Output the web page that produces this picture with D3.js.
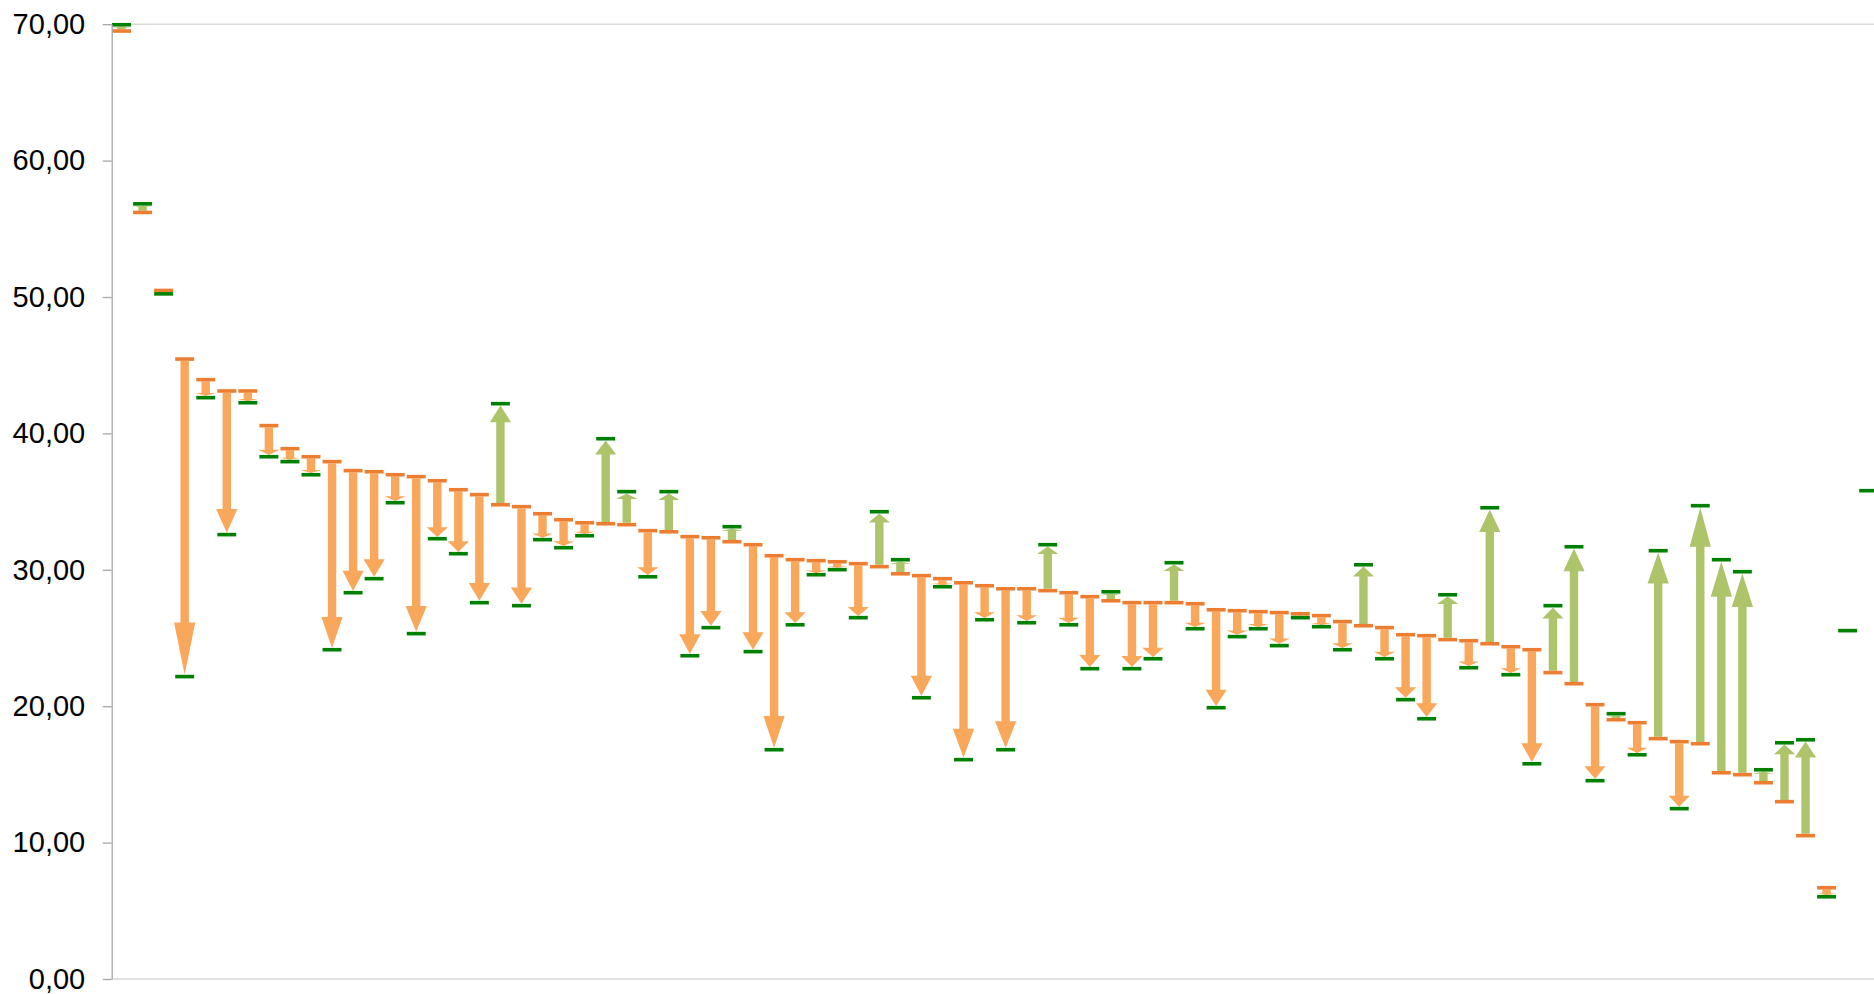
<!DOCTYPE html>
<html>
<head>
<meta charset="utf-8">
<script src="https://cdn.jsdelivr.net/npm/d3@7"></script>
<style>
  html, body { margin: 0; padding: 0; background: #fff; overflow: hidden; }
  svg { display: block; }
</style>
</head>
<body>
<svg id="chart" width="1874" height="994"></svg>
<script>
// ---- data ----
const categories = d3.range(1, 85).map(String);

const startValues = [
  69.50, 56.20, 50.48, 45.45, 43.94, 43.11, 43.11, 40.57, 38.88, 38.29,
  37.93, 37.27, 37.19, 36.97, 36.83, 36.53, 35.87, 35.51, 34.77, 34.63,
  34.11, 33.67, 33.45, 33.38, 33.31, 32.87, 32.79, 32.43, 32.35, 32.06,
  31.84, 31.03, 30.74, 30.67, 30.59, 30.45, 30.23, 29.71, 29.57, 29.35,
  29.05, 28.83, 28.61, 28.61, 28.47, 28.32, 28.03, 27.73, 27.59, 27.59,
  27.59, 27.51, 27.07, 27.00, 26.93, 26.86, 26.78, 26.64, 26.20, 25.90,
  25.76, 25.24, 25.17, 24.88, 24.80, 24.58, 24.36, 24.14, 22.46, 21.65,
  20.11, 19.01, 18.79, 17.62, 17.40, 17.25, 15.12, 14.98, 14.39, 13.00,
  10.51, 6.69, null, null
];

const endValues = [
  69.96, 56.83, 50.23, 22.17, 42.62, 32.58, 42.25, 38.29, 37.93, 36.97,
  24.14, 28.32, 29.35, 34.92, 25.32, 32.28, 31.18, 27.59, 42.18, 27.37,
  32.21, 31.62, 32.50, 39.61, 35.73, 29.49, 35.73, 23.70, 25.76, 33.16,
  24.00, 16.81, 25.97, 29.64, 30.01, 26.49, 34.26, 30.74, 20.62, 28.76,
  16.08, 26.34, 16.81, 26.12, 31.84, 25.97, 22.75, 28.39, 22.75, 23.48,
  30.52, 25.68, 19.89, 25.10, 25.68, 24.44, 26.49, 25.83, 24.14, 30.37,
  23.48, 20.48, 19.08, 28.17, 22.82, 34.55, 22.31, 15.78, 27.37, 31.69,
  14.54, 19.45, 16.44, 31.40, 12.49, 34.70, 30.74, 29.86, 15.34, 17.32,
  17.54, 6.03, 25.54, 35.80
];

const yTicks = [0, 10, 20, 30, 40, 50, 60, 70];

// ---- chart ----
const svg = d3.select("#chart");

const y = d3.scaleLinear().domain([0, 70]).range([979, 24.2]);
const x = d3.scaleBand().domain(categories).range([111, 111 + categories.length * 21.05]).padding(0);

const rows = categories.map((c, i) => ({ c, s: startValues[i], e: endValues[i] }));

// light gridline at top and baseline
svg.append("line")
  .attr("x1", 111.5).attr("x2", 1874)
  .attr("y1", y(70)).attr("y2", y(70))
  .attr("stroke", "#d9d9d9").attr("stroke-width", 1.6);
svg.append("line")
  .attr("x1", 111.5).attr("x2", 1874)
  .attr("y1", y(0)).attr("y2", y(0))
  .attr("stroke", "#d9d9d9").attr("stroke-width", 1.6);

// arrows
function arrowPath(d) {
  const cx = x(d.c) + x.bandwidth() / 2;
  const yS = y(d.s), yE = y(d.e);
  const dir = yE > yS ? 1 : -1;
  const len = Math.abs(yE - yS);
  const tip = yE - dir * 1.8;
  const base = yS + dir * 1.8;
  const hl = Math.max(1, len * 0.165);
  const hb = tip - dir * hl;
  const sw = 4.2, hw = 10.6;
  return `M${cx - sw},${base} L${cx - sw},${hb} L${cx - hw},${hb} L${cx},${tip} L${cx + hw},${hb} L${cx + sw},${hb} L${cx + sw},${base} Z`;
}

svg.append("g").selectAll("path")
  .data(rows.filter(d => d.s != null && d.e != null && Math.abs(y(d.e) - y(d.s)) > 3.8))
  .join("path")
  .attr("d", arrowPath)
  .attr("fill", d => d.e > d.s ? "#adc46b" : "#f9a75a");

// markers
const mw = x.bandwidth() * 0.9, mh = 3.6;
svg.append("g").selectAll("rect")
  .data(rows.filter(d => d.s != null))
  .join("rect")
  .attr("x", d => x(d.c) + (x.bandwidth() - mw) / 2)
  .attr("y", d => y(d.s) - mh / 2)
  .attr("width", mw).attr("height", mh)
  .attr("fill", "#ed7d31");

svg.append("g").selectAll("rect")
  .data(rows.filter(d => d.e != null))
  .join("rect")
  .attr("x", d => x(d.c) + (x.bandwidth() - mw) / 2)
  .attr("y", d => y(d.e) - mh / 2)
  .attr("width", mw).attr("height", mh)
  .attr("fill", "#008000");

// y axis
const yAxis = d3.axisLeft(y)
  .tickValues(yTicks)
  .tickSize(9)
  .tickSizeOuter(0)
  .tickPadding(17.5)
  .tickFormat(d => d.toFixed(2).replace(".", ","));

const gy = svg.append("g").attr("transform", "translate(111.7,0)").call(yAxis);
gy.select(".domain").attr("stroke", "#a6a6a6").attr("stroke-width", 1.3);
gy.selectAll(".tick line").attr("stroke", "#a6a6a6").attr("stroke-width", 1.3);
gy.selectAll(".tick text")
  .attr("font-family", "'Liberation Sans', Arial, sans-serif")
  .attr("font-size", 29)
  .attr("fill", "#000");
</script>
</body>
</html>
